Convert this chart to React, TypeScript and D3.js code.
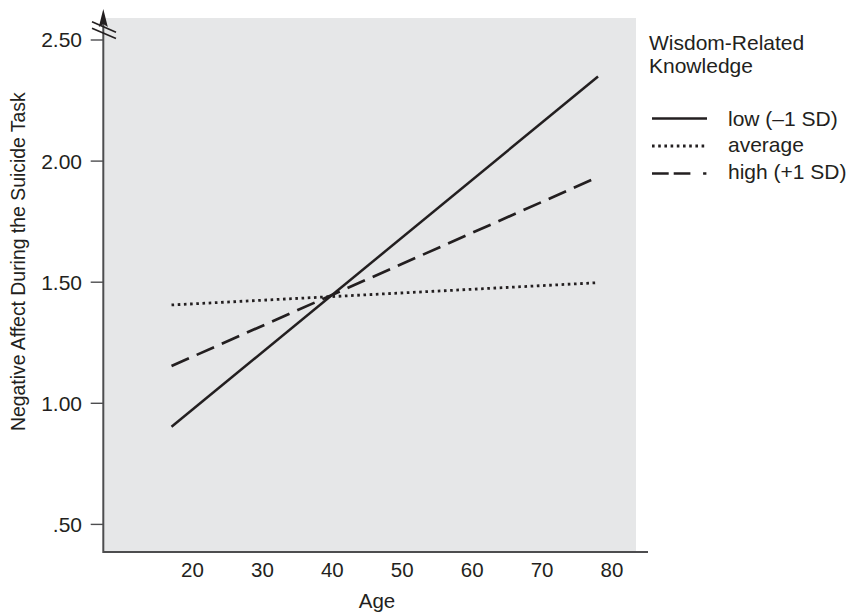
import React from "react";
import * as d3 from "d3";

// ---- Data ----
const ages = [17, 78];
const seriesNames = ["low (\u20131 SD)", "average", "high (+1 SD)"];
const lowValues = [0.903, 2.349];
const averageValues = [1.406, 1.498];
const highValues = [1.154, 1.934];
const xTicks = [20, 30, 40, 50, 60, 70, 80];
const yTicks = [0.5, 1.0, 1.5, 2.0, 2.5];
const yTickLabels = [".50", "1.00", "1.50", "2.00", "2.50"];
const legendTitle = ["Wisdom-Related", "Knowledge"];
const xLabel = "Age";
const yLabel = "Negative Affect During the Suicide Task";

const W = 850;
const H = 612;
const FONT = "Liberation Sans, Arial, Helvetica, sans-serif";
const INK = "#231f20";
const AXIS = "#4d4d4f";

export default function App() {
  const x = d3.scaleLinear().domain([20, 80]).range([192.5, 612]);
  const y = d3.scaleLinear().domain([1, 2]).range([403.3, 161.1]);

  const axisX = 103.3;
  const axisY = 552;
  const plotRight = 636;
  const plotTop = 18;
  const axisRight = 648;

  const line = d3
    .line<[number, number]>()
    .x((d) => x(d[0]))
    .y((d) => y(d[1]));

  const series = [
    { name: seriesNames[0], values: lowValues, dash: "none", width: 2.5 },
    { name: seriesNames[1], values: averageValues, dash: "2.6 3.6", width: 2.8 },
    { name: seriesNames[2], values: highValues, dash: "19 8.5", width: 2.7 },
  ];
  const legendDash = ["none", "2.6 3.6", "16.7 5 16.7 12.7 3.3 100"];
  const legendY = [118.5, 146, 173.5];
  const legendBase = [126, 152, 179];

  return (
    <svg width={W} height={H} style={{ display: "block", position: "absolute", left: 0, top: 0 }}>
      <rect x={0} y={0} width={W} height={H} fill="#ffffff" />
      <rect x={axisX} y={plotTop} width={plotRight - axisX} height={axisY - plotTop} fill="#e6e7e8" />

      {/* lines */}
      {series.map((s, i) => (
        <path
          key={i}
          d={line(ages.map((a, j) => [a, s.values[j]] as [number, number])) || ""}
          fill="none"
          stroke={INK}
          strokeWidth={s.width}
          strokeDasharray={s.dash}
        />
      ))}

      {/* axes */}
      <line x1={axisX} y1={axisY} x2={axisRight} y2={axisY} stroke={AXIS} strokeWidth={2} />
      <line x1={axisX} y1={axisY + 1} x2={axisX} y2={20} stroke={AXIS} strokeWidth={2} />
      <path d={`M${axisX},9 L${axisX + 4.5},27 L${axisX},24 L${axisX - 4.5},27 Z`} fill={INK} />
      <line x1={92} y1={21.7} x2={116} y2={32.3} stroke={INK} strokeWidth={1.6} />
      <line x1={92} y1={28.3} x2={116} y2={38.6} stroke={INK} strokeWidth={1.6} />

      {/* y ticks */}
      {yTicks.map((t, i) => (
        <g key={i}>
          <line x1={90.7} x2={axisX} y1={y(t)} y2={y(t)} stroke={AXIS} strokeWidth={1.4} />
          <text x={82} y={y(t) + 7.4} textAnchor="end" fontFamily={FONT} fontSize={21} fill={INK}>
            {yTickLabels[i]}
          </text>
        </g>
      ))}

      {/* x tick labels */}
      {xTicks.map((t, i) => (
        <text key={i} x={x(t)} y={577} textAnchor="middle" fontFamily={FONT} fontSize={20.5} fill={INK}>
          {t}
        </text>
      ))}

      <text x={377} y={607.5} textAnchor="middle" fontFamily={FONT} fontSize={20.5} fill={INK}>
        {xLabel}
      </text>
      <text
        transform={`translate(25,261.7) rotate(-90)`}
        textAnchor="middle"
        fontFamily={FONT}
        fontSize={19.4}
        fill={INK}
      >
        {yLabel}
      </text>

      {/* legend */}
      <text x={649} y={49.5} fontFamily={FONT} fontSize={21} fill={INK}>
        {legendTitle[0]}
      </text>
      <text x={649} y={72.6} fontFamily={FONT} fontSize={21} fill={INK}>
        {legendTitle[1]}
      </text>
      {series.map((s, i) => (
        <g key={i}>
          <line
            x1={652}
            x2={707}
            y1={legendY[i]}
            y2={legendY[i]}
            stroke={INK}
            strokeWidth={s.width}
            strokeDasharray={legendDash[i]}
          />
          <text x={728} y={legendBase[i]} fontFamily={FONT} fontSize={21} fill={INK}>
            {s.name}
          </text>
        </g>
      ))}
    </svg>
  );
}
